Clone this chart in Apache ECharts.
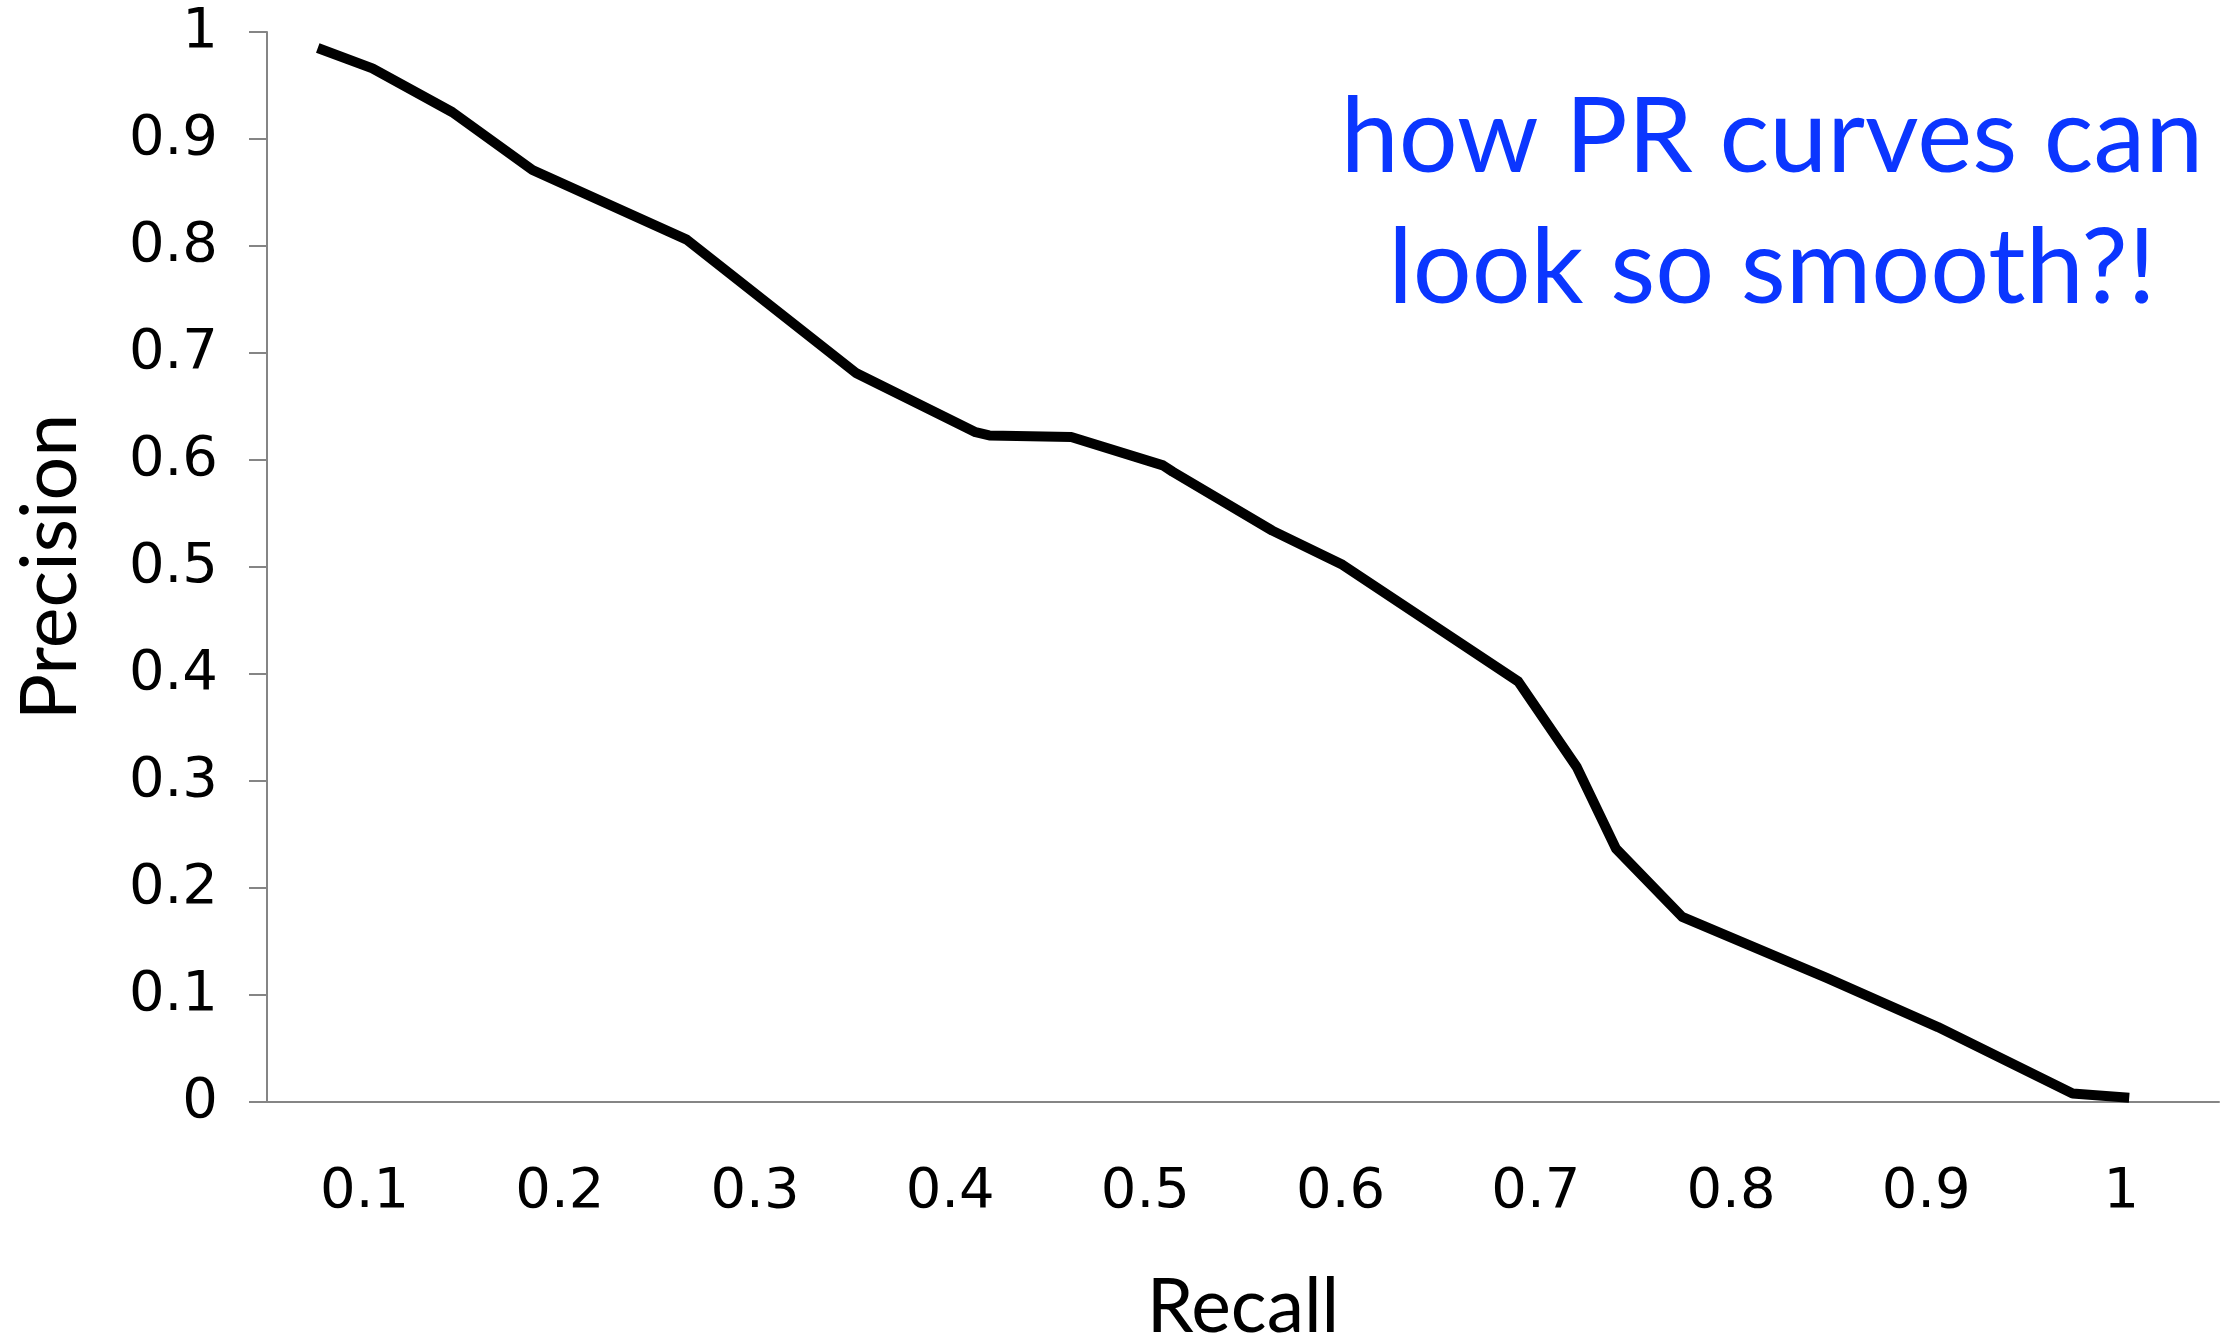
<!DOCTYPE html>
<html>
<head>
<meta charset="utf-8">
<script src="https://cdn.jsdelivr.net/npm/echarts@6/dist/echarts.min.js"></script>
<style>
  html, body { margin: 0; padding: 0; background: #fff; }
  #chart { width: 2228px; height: 1341px; }
</style>
</head>
<body>
<div id="chart"></div>
<script>
// x tick labels (Excel style: labels sit between the tick marks)
var recallLabels = ['0.1', '0.2', '0.3', '0.4', '0.5', '0.6', '0.7', '0.8', '0.9', '1'];

// curve points
var recall = [0.076, 0.104, 0.145, 0.186, 0.265, 0.352, 0.413, 0.420, 0.462, 0.509,
              0.514, 0.565, 0.601, 0.691, 0.721, 0.741, 0.775, 0.849, 0.906, 0.975, 1.004];
var precision = [0.985, 0.966, 0.925, 0.871, 0.806, 0.681, 0.626, 0.623, 0.6215, 0.595,
                 0.589, 0.534, 0.502, 0.393, 0.313, 0.237, 0.173, 0.116, 0.070, 0.008, 0.004];

var noteLines = ['how PR curves can', 'look so smooth?!'];

var chart = echarts.init(document.getElementById('chart'));

var curve = [];
for (var i = 0; i < recall.length; i++) {
	curve.push([recall[i], precision[i]]);
}

function $extend(a, b) {
	for (var key in b) { a[key] = b[key]; }
	return a;
}

var axisGray = { color: '#858585', width: 2 };
var tickFont = { fontFamily: 'DejaVu Sans', fontSize: 56, color: '#000' };

var option = {
	animation: false,
	backgroundColor: '#fff',
	grid: { left: 267, right: 9, top: 32, bottom: 239, containLabel: false, outerBoundsMode: 'none' },
	xAxis: [{
		type: 'category',
		data: recallLabels,
		boundaryGap: true,
		name: 'Recall',
		nameLocation: 'middle',
		nameGap: 168,
		nameTextStyle: { fontFamily: 'Lato', fontSize: 75, color: '#000' },
		axisLine: { lineStyle: axisGray },
		axisTick: { length: 18, lineStyle: axisGray },
		axisLabel: $extend({ margin: 62, interval: 0 }, tickFont),
		splitLine: { show: false }
	}, {
		type: 'value',
		min: 0.05,
		max: 1.05,
		show: false
	}],
	yAxis: {
		type: 'value',
		min: 0,
		max: 1,
		interval: 0.1,
		name: 'Precision',
		nameLocation: 'middle',
		nameRotate: 90,
		nameGap: 177,
		nameTextStyle: { fontFamily: 'Lato', fontSize: 77, color: '#000' },
		axisLine: { show: true, lineStyle: axisGray },
		axisTick: { show: true, length: 18, lineStyle: axisGray },
		axisLabel: $extend({ margin: 49 }, tickFont),
		splitLine: { show: false }
	},
	graphic: [],
	series: [{
		type: 'line',
		xAxisIndex: 1,
		data: curve,
		showSymbol: false,
		lineStyle: { color: '#000', width: 10, cap: 'butt', join: 'round' }
	}]
};

var noteY = [138, 269];
for (var k = 0; k < noteLines.length; k++) {
	option.graphic.push({
		type: 'text',
		x: 1772,
		y: noteY[k],
		style: {
			text: noteLines[k],
			align: 'center',
			verticalAlign: 'middle',
			fill: '#0b36ff',
			font: '104px Lato'
		}
	});
}

chart.setOption(option);
</script>
</body>
</html>
